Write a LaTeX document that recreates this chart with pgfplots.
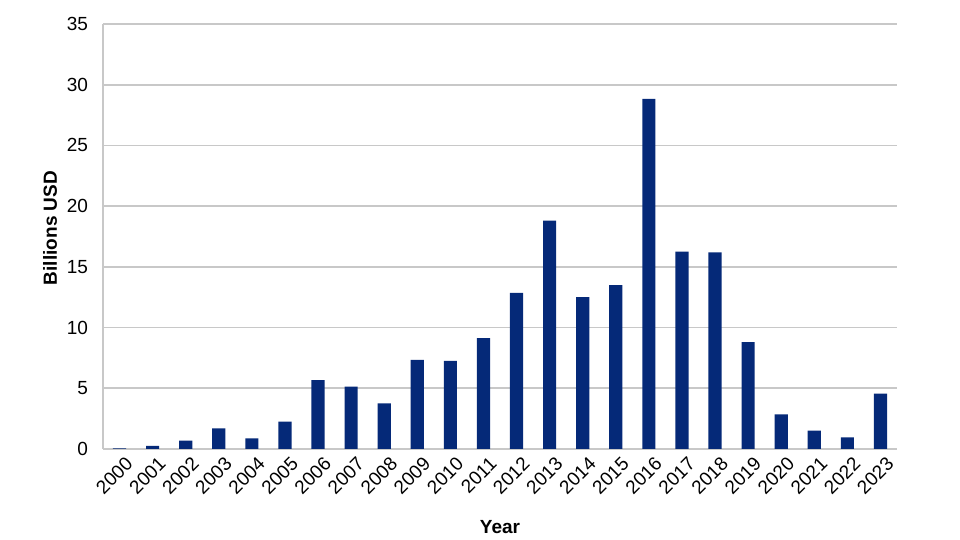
\documentclass[border=0pt]{standalone}
\usepackage{fontspec}
\setmainfont{Liberation Sans}
\usepackage{pgfplots}
\pgfplotsset{compat=1.18}
\definecolor{barblue}{RGB}{5,41,120}
\definecolor{gridgray}{RGB}{200,200,200}
\begin{document}
\begin{tikzpicture}
\begin{axis}[
  scale only axis,
  width=397pt, height=212.5pt,
  xmin=-0.5, xmax=23.5,
  ymin=0, ymax=35,
  ytick={0,5,...,35},
  xtick={0,...,23},
  xticklabels={2000,2001,2002,2003,2004,2005,2006,2007,2008,2009,2010,2011,2012,2013,2014,2015,2016,2017,2018,2019,2020,2021,2022,2023},
  x tick label style={rotate=45, anchor=north east, font=\fontsize{9.5}{11}\selectfont, inner sep=1pt, yshift=-3pt, xshift=0.5pt},
  y tick label style={font=\fontsize{9.5}{11}\selectfont, xshift=-4pt},
  /pgf/number format/assume math mode=true,
  major tick length=0pt,
  axis x line*=bottom, axis y line*=left,
  axis line style={gridgray, line width=0.8pt},
  ymajorgrids, grid style={gridgray, line width=0.8pt},
  xlabel={\textbf{Year}},
  ylabel={\textbf{Billions USD}},
  xlabel style={at={(axis description cs:0.5,-0.1835)}, anchor=center, font=\fontsize{9.5}{11}\selectfont},
  ylabel style={at={(axis description cs:-0.0667,0.52)}, anchor=center, font=\fontsize{9.5}{11}\selectfont},
  ybar, bar width=0.4, bar shift=0pt,
]
\addplot[fill=barblue, draw=none] coordinates {
(0,0.06) (1,0.25) (2,0.68) (3,1.7) (4,0.88) (5,2.25) (6,5.68) (7,5.13) (8,3.76) (9,7.33) (10,7.25) (11,9.14) (12,12.85) (13,18.8) (14,12.5) (15,13.5) (16,28.83) (17,16.25) (18,16.2) (19,8.8) (20,2.86) (21,1.51) (22,0.96) (23,4.56)
};
\end{axis}
\pgfresetboundingbox
\useasboundingbox ([shift={(-51.5pt,-45.5pt)}]current axis.south west) rectangle ([shift={(31.5pt,12pt)}]current axis.north east);
\end{tikzpicture}
\end{document}
